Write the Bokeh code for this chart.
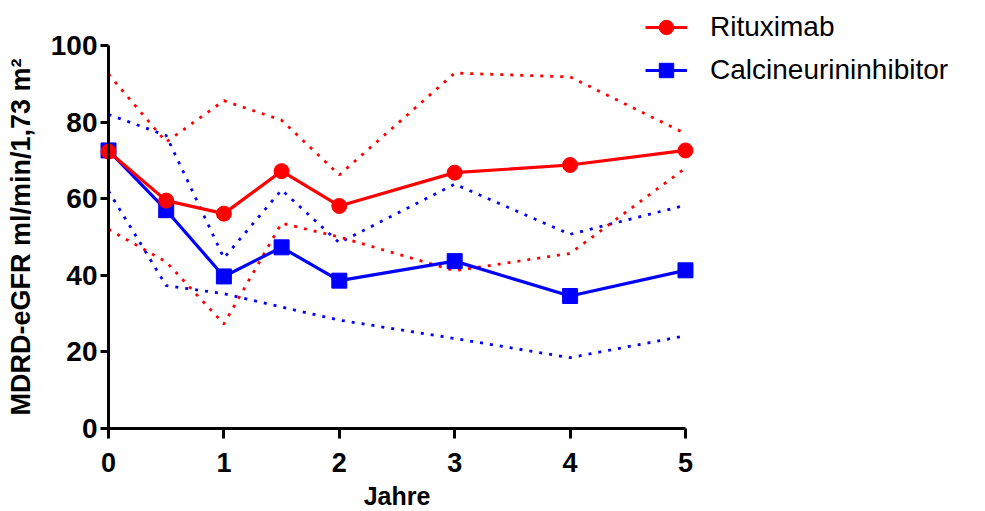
from bokeh.plotting import figure
from bokeh.models import Range1d, FixedTicker, Legend, LegendItem
from bokeh.embed import file_html
from bokeh.resources import INLINE

# ---- data ----
years = [0, 0.5, 1, 1.5, 2, 3, 4, 5]
ritux_mean = [72.3, 59.5, 56.1, 67.2, 58.1, 66.8, 68.8, 72.6]
ritux_upper = [92.5, 74.8, 85.6, 80.5, 66.2, 92.8, 91.8, 77.0]
ritux_lower = [52.0, 43.5, 27.3, 53.6, 50.0, 41.2, 45.7, 68.0]
cni_mean = [72.6, 57.0, 39.7, 47.3, 38.6, 43.7, 34.6, 41.3]
cni_upper = [82.0, 76.5, 44.5, 62.3, 48.5, 63.8, 50.7, 58.3]
cni_lower = [62.0, 37.3, 35.2, 31.7, 28.3, 23.5, 18.5, 24.2]

x_ticks = [0, 1, 2, 3, 4, 5]
y_ticks = [0, 20, 40, 60, 80, 100]

RED = "#FF0000"
BLUE = "#0000FF"
FONT = "Liberation Sans"

# The frame covers the whole canvas; the axes sit at x=0 / y=0 (fixed_location)
p = figure(width=985, height=511, output_backend="svg", toolbar_location=None,
           x_range=Range1d(-0.936, 7.60), y_range=Range1d(-21.67, 111.75),
           min_border=0, min_border_left=0, min_border_right=0,
           min_border_top=0, min_border_bottom=0)
p.outline_line_color = None
p.xgrid.visible = False
p.ygrid.visible = False
p.background_fill_color = "white"
p.border_fill_color = "white"

# dotted bands
for ys, col in [(cni_upper, BLUE), (cni_lower, BLUE), (ritux_upper, RED), (ritux_lower, RED)]:
    p.line(years, ys, line_color=col, line_width=2.8, line_dash="3 7")

# main series
b_line = p.line(years, cni_mean, line_color=BLUE, line_width=3.2)
b_mark = p.scatter(years, cni_mean, marker="square", size=15, fill_color=BLUE, line_color=BLUE)
r_line = p.line(years, ritux_mean, line_color=RED, line_width=3.2)
r_mark = p.scatter(years, ritux_mean, marker="circle", size=15, fill_color=RED, line_color=RED)

# axes
for ax in (p.xaxis[0], p.yaxis[0]):
    ax.fixed_location = 0
    ax.axis_line_width = 3
    ax.axis_line_color = "black"
    ax.major_tick_line_width = 3
    ax.major_tick_line_color = "black"
    ax.major_tick_in = 0
    ax.minor_tick_line_color = None
    ax.major_label_text_font = FONT
    ax.major_label_text_font_style = "bold"
    ax.major_label_text_color = "black"
    ax.axis_label_text_font = FONT
    ax.axis_label_text_font_style = "bold"
    ax.axis_label_text_color = "black"

p.xaxis.ticker = FixedTicker(ticks=x_ticks)
p.xaxis.bounds = (0, 5)
p.xaxis.major_tick_out = 10
p.xaxis.major_label_standoff = 14
p.xaxis.major_label_text_font_size = "27px"
p.xaxis.axis_label = "Jahre"
p.xaxis.axis_label_text_font_size = "25px"
p.xaxis.axis_label_standoff = 7

p.yaxis.ticker = FixedTicker(ticks=y_ticks)
p.yaxis.bounds = (0, 100)
p.yaxis.major_tick_out = 8
p.yaxis.major_label_standoff = 3
p.yaxis.major_label_text_font_size = "28px"
p.yaxis.axis_label = "MDRD-eGFR ml/min/1,73 m\u00b2"
p.yaxis.axis_label_text_font_size = "27px"
p.yaxis.axis_label_standoff = 12

legend = Legend(items=[LegendItem(label="Rituximab", renderers=[r_line, r_mark]),
                       LegendItem(label="Calcineurininhibitor", renderers=[b_line, b_mark])],
                location=(645, 423), orientation="vertical",
                glyph_width=42, glyph_height=36, label_height=36,
                label_standoff=23, spacing=7, padding=0, margin=0,
                label_text_font=FONT, label_text_font_size="28px",
                label_text_color="black",
                border_line_color=None, background_fill_alpha=0)
p.add_layout(legend, "center")

open("out.html", "w").write(file_html(p, INLINE))
